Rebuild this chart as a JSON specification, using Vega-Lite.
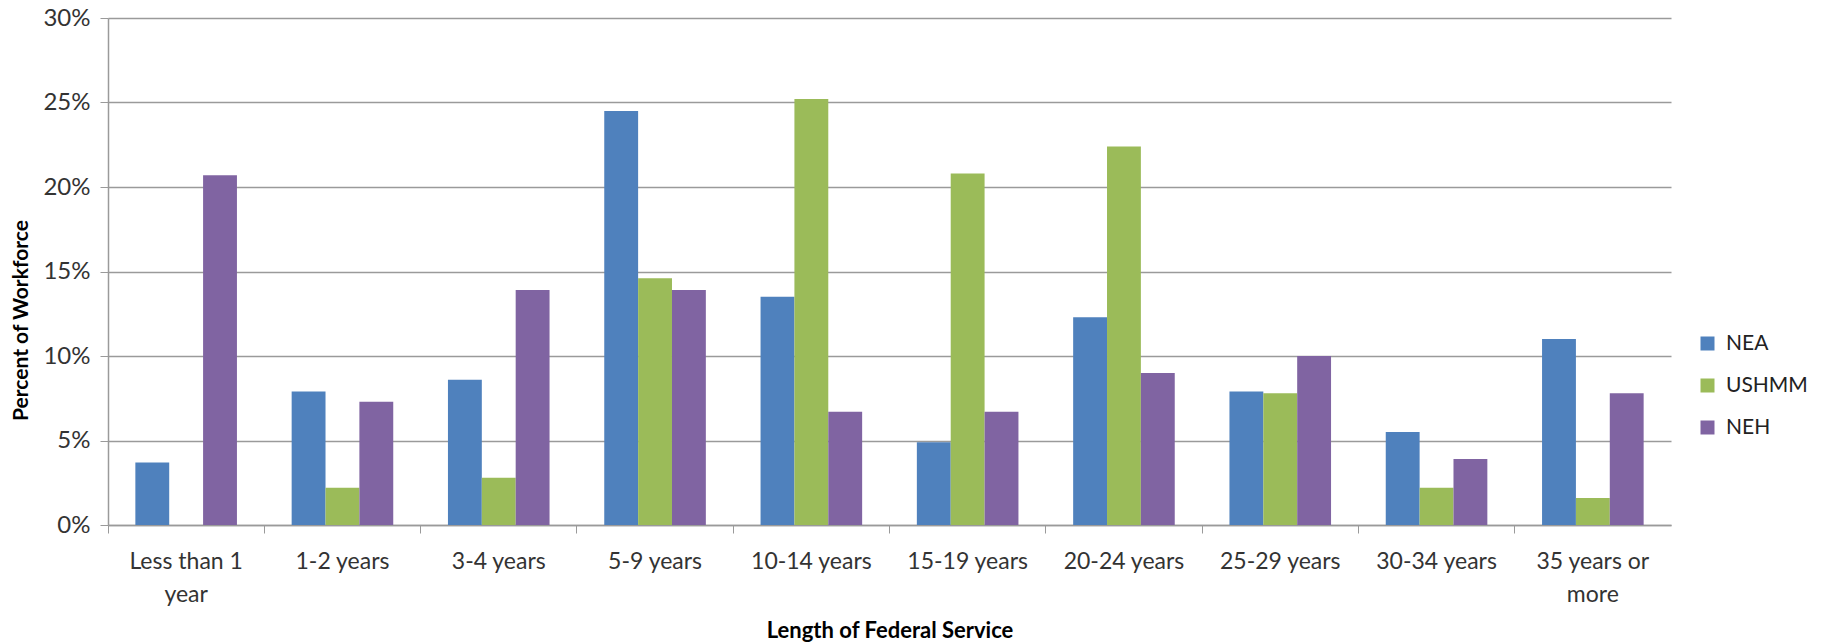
{
  "$schema": "https://vega.github.io/schema/vega-lite/v6.json",
  "width": 1563,
  "height": 507,
  "autosize": {"type": "none"},
  "padding": {"left": 108, "top": 18, "right": 158, "bottom": 119},
  "config": {"font": "Lato", "view": {"stroke": null}, "background": "white"},
  "data": {
    "values": [
      {"service": "Less than 1 year", "agency": "NEA", "pct": 3.7},
      {"service": "Less than 1 year", "agency": "USHMM", "pct": 0},
      {"service": "Less than 1 year", "agency": "NEH", "pct": 20.7},
      {"service": "1-2 years", "agency": "NEA", "pct": 7.9},
      {"service": "1-2 years", "agency": "USHMM", "pct": 2.2},
      {"service": "1-2 years", "agency": "NEH", "pct": 7.3},
      {"service": "3-4 years", "agency": "NEA", "pct": 8.6},
      {"service": "3-4 years", "agency": "USHMM", "pct": 2.8},
      {"service": "3-4 years", "agency": "NEH", "pct": 13.9},
      {"service": "5-9 years", "agency": "NEA", "pct": 24.5},
      {"service": "5-9 years", "agency": "USHMM", "pct": 14.6},
      {"service": "5-9 years", "agency": "NEH", "pct": 13.9},
      {"service": "10-14 years", "agency": "NEA", "pct": 13.5},
      {"service": "10-14 years", "agency": "USHMM", "pct": 25.2},
      {"service": "10-14 years", "agency": "NEH", "pct": 6.7},
      {"service": "15-19 years", "agency": "NEA", "pct": 4.9},
      {"service": "15-19 years", "agency": "USHMM", "pct": 20.8},
      {"service": "15-19 years", "agency": "NEH", "pct": 6.7},
      {"service": "20-24 years", "agency": "NEA", "pct": 12.3},
      {"service": "20-24 years", "agency": "USHMM", "pct": 22.4},
      {"service": "20-24 years", "agency": "NEH", "pct": 9.0},
      {"service": "25-29 years", "agency": "NEA", "pct": 7.9},
      {"service": "25-29 years", "agency": "USHMM", "pct": 7.8},
      {"service": "25-29 years", "agency": "NEH", "pct": 10.0},
      {"service": "30-34 years", "agency": "NEA", "pct": 5.5},
      {"service": "30-34 years", "agency": "USHMM", "pct": 2.2},
      {"service": "30-34 years", "agency": "NEH", "pct": 3.9},
      {"service": "35 years or more", "agency": "NEA", "pct": 11.0},
      {"service": "35 years or more", "agency": "USHMM", "pct": 1.6},
      {"service": "35 years or more", "agency": "NEH", "pct": 7.8}
    ]
  },
  "layer": [
    {
      "mark": {"type": "bar"},
      "encoding": {
        "x": {
          "field": "service",
          "type": "nominal",
          "sort": ["Less than 1 year", "1-2 years", "3-4 years", "5-9 years", "10-14 years", "15-19 years", "20-24 years", "25-29 years", "30-34 years", "35 years or more"],
          "scale": {"paddingInner": 0.35, "paddingOuter": 0.175},
          "axis": {"orient": "bottom", "bandPosition": -0.2692, "labels": false, "title": null, "tickSize": 8, "tickColor": "#9a9a9a", "domainColor": "#9a9a9a", "domainWidth": 1.5, "grid": false}
        },
        "xOffset": {"field": "agency", "type": "nominal", "sort": ["NEA", "USHMM", "NEH"], "scale": {"paddingInner": 0, "paddingOuter": 0}},
        "y": {
          "field": "pct",
          "type": "quantitative",
          "scale": {"domain": [0, 30]},
          "axis": {
            "values": [0, 5, 10, 15, 20, 25, 30],
            "labelExpr": "datum.value + '%'",
            "labelFontSize": 24,
            "labelColor": "#333333",
            "labelPadding": 10,
            "tickSize": 8,
            "tickColor": "#9a9a9a",
            "domainColor": "#9a9a9a",
            "domainWidth": 1.5,
            "gridColor": "#9a9a9a",
            "gridWidth": 1.5,
            "title": "Percent of Workforce",
            "titleFontSize": 21,
            "titleFontWeight": "bold",
            "titleColor": "#000000",
            "titleX": -87,
            "titleY": 302,
            "titleAngle": -90,
            "titleAlign": "center",
            "titleBaseline": "middle"
          }
        },
        "color": {
          "field": "agency",
          "type": "nominal",
          "sort": ["NEA", "USHMM", "NEH"],
          "scale": {"domain": ["NEA", "USHMM", "NEH"], "range": ["#4F81BD", "#9BBB59", "#8064A2"]},
          "legend": {
            "title": null,
            "orient": "none",
            "legendX": 1589,
            "legendY": 315,
            "symbolType": "square",
            "symbolSize": 196,
            "symbolStrokeWidth": 0,
            "labelFontSize": 21,
            "labelColor": "#222222",
            "rowPadding": 20,
            "labelOffset": 8
          }
        }
      }
    },
    {
      "mark": {"type": "bar", "opacity": 0},
      "encoding": {
        "x": {
          "field": "service",
          "type": "nominal",
          "sort": ["Less than 1 year", "1-2 years", "3-4 years", "5-9 years", "10-14 years", "15-19 years", "20-24 years", "25-29 years", "30-34 years", "35 years or more"],
          "axis": {
            "orient": "bottom",
            "ticks": false,
            "domain": false,
            "grid": false,
            "labelAngle": 0,
            "labelFontSize": 23,
            "labelColor": "#333333",
            "labelPadding": 36,
            "labelLineHeight": 33,
            "labelBaseline": "middle",
            "labelExpr": "datum.value == 'Less than 1 year' ? ['Less than 1', 'year'] : datum.value == '35 years or more' ? ['35 years or', 'more'] : datum.value",
            "title": "Length of Federal Service",
            "titleFontSize": 22,
            "titleFontWeight": "bold",
            "titleColor": "#000000",
            "titleY": 105,
            "titleBaseline": "middle"
          }
        },
        "y": {"field": "pct", "type": "quantitative"}
      }
    }
  ],
  "resolve": {"axis": {"x": "independent"}}
}
